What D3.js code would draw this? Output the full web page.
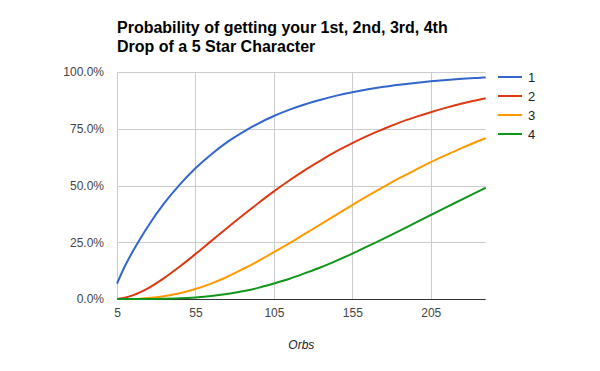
<!DOCTYPE html>
<html>
<head>
<meta charset="utf-8">
<script src="https://cdn.jsdelivr.net/npm/d3@7"></script>
<style>
	body { margin: 0; background: #fff; }
	text { font-family: Arial, "Liberation Sans", sans-serif; }
</style>
</head>
<body>
<div id="chart-area"></div>
<script>
// data (percent)
let orbs = [5, 10, 15, 20, 25, 35, 45, 55, 65, 75, 85, 95, 105, 115, 125, 135, 145, 155, 165, 175, 185, 195, 205, 215, 225, 235, 240];
let drop1 = [6.8, 14.4, 20.9, 26.8, 32.3, 42.1, 50.4, 57.6, 63.7, 69.0, 73.4, 77.3, 80.6, 83.4, 85.8, 87.8, 89.6, 91.1, 92.4, 93.5, 94.4, 95.2, 95.9, 96.5, 97.0, 97.4, 97.6];
let drop2 = [0, 0.56, 1.6, 3.05, 4.8, 9.2, 14.3, 19.8, 25.5, 31.2, 36.8, 42.2, 47.4, 52.3, 56.9, 61.1, 65.1, 68.7, 72.0, 74.9, 77.7, 80.1, 82.3, 84.3, 86.1, 87.7, 88.4];
let drop3 = [0, 0, 0.04, 0.16, 0.4, 1.2, 2.5, 4.4, 6.8, 9.7, 13.1, 16.7, 20.6, 24.6, 28.8, 33.0, 37.2, 41.4, 45.5, 49.4, 53.2, 56.8, 60.3, 63.5, 66.6, 69.5, 70.8];
let drop4 = [0, 0, 0, 0, 0.02, 0.1, 0.3, 0.7, 1.3, 2.2, 3.4, 4.9, 6.8, 8.9, 11.4, 14.0, 16.9, 20.0, 23.3, 26.6, 30.0, 33.5, 37.0, 40.5, 43.9, 47.3, 49.0];

let seriesNames = ["1", "2", "3", "4"];
let colors = ["#3366cc", "#dc3912", "#ff9900", "#109618"];
let xTicks = [5, 55, 105, 155, 205];
let yTicks = [0, 0.25, 0.5, 0.75, 1];

let width = 600,
	height = 371;

let series = [drop1, drop2, drop3, drop4].map((vals, i) => ({
	name: seriesNames[i],
	color: colors[i],
	values: vals.map((v, j) => ({x: orbs[j], y: v / 100}))
}));

let svg = d3.select("#chart-area").append("svg")
	.attr("width", width)
	.attr("height", height);

let xScale = d3.scaleLinear()
	.domain([5, 240])
	.range([117, 485.7]);

let yScale = d3.scaleLinear()
	.domain([0, 1])
	.range([299, 72]);

// title
let title = svg.append("text")
	.attr("x", 117)
	.attr("y", 32.5)
	.attr("font-size", "16px")
	.attr("font-weight", "bold")
	.attr("fill", "#000");
title.append("tspan").attr("x", 117).text("Probability of getting your 1st, 2nd, 3rd, 4th");
title.append("tspan").attr("x", 117).attr("dy", 19.5).text("Drop of a 5 Star Character");

// gridlines
svg.append("g").selectAll("line")
	.data(yTicks.filter(d => d > 0))
	.enter().append("line")
	.attr("x1", xScale(5))
	.attr("x2", xScale(240))
	.attr("y1", d => Math.round(yScale(d)) + 0.5)
	.attr("y2", d => Math.round(yScale(d)) + 0.5)
	.attr("stroke", "#cccccc");

svg.append("g").selectAll("line")
	.data(xTicks)
	.enter().append("line")
	.attr("x1", d => Math.round(xScale(d)) + 0.5)
	.attr("x2", d => Math.round(xScale(d)) + 0.5)
	.attr("y1", yScale(1))
	.attr("y2", yScale(0))
	.attr("stroke", "#cccccc");

// axes (labels only, lines drawn by hand like the original)
let yaxis = d3.axisLeft(yScale)
	.tickValues(yTicks)
	.tickFormat(d3.format(".1%"))
	.tickSize(0)
	.tickPadding(13);

svg.append("g")
	.attr("class", "y-axis")
	.attr("transform", "translate(" + xScale(5) + ",0)")
	.call(yaxis)
	.call(g => g.select(".domain").remove())
	.selectAll("text")
	.attr("font-size", "12px")
	.attr("font-family", "Arial, 'Liberation Sans', sans-serif")
	.attr("fill", "#444");

let xaxis = d3.axisBottom(xScale)
	.tickValues(xTicks)
	.tickFormat(d3.format("d"))
	.tickSize(0)
	.tickPadding(9);

svg.append("g")
	.attr("class", "x-axis")
	.attr("transform", "translate(0," + yScale(0) + ")")
	.call(xaxis)
	.call(g => g.select(".domain").remove())
	.selectAll("text")
	.attr("font-size", "12px")
	.attr("font-family", "Arial, 'Liberation Sans', sans-serif")
	.attr("fill", "#444");

// baseline
svg.append("line")
	.attr("x1", xScale(5))
	.attr("x2", xScale(240))
	.attr("y1", Math.round(yScale(0)) + 0.5)
	.attr("y2", Math.round(yScale(0)) + 0.5)
	.attr("stroke", "#333");

svg.append("text")
	.attr("x", (xScale(5) + xScale(240)) / 2)
	.attr("y", 349)
	.attr("text-anchor", "middle")
	.attr("font-size", "12px")
	.attr("font-style", "italic")
	.attr("fill", "#222")
	.text("Orbs");

// lines
let line = d3.line()
	.x(d => xScale(d.x))
	.y(d => yScale(d.y))
	.curve(d3.curveMonotoneX);

svg.append("g").selectAll("path")
	.data(series)
	.enter().append("path")
	.attr("d", d => line(d.values))
	.attr("fill", "none")
	.attr("stroke", d => d.color)
	.attr("stroke-width", 2);

// legend
let legend = svg.append("g").selectAll("g")
	.data(series)
	.enter().append("g")
	.attr("transform", (d, i) => "translate(498," + (77 + i * 19) + ")");

legend.append("line")
	.attr("x1", 0)
	.attr("x2", 24)
	.attr("stroke", d => d.color)
	.attr("stroke-width", 2);

legend.append("text")
	.attr("x", 30)
	.attr("dy", "0.35em")
	.attr("font-size", "13px")
	.attr("fill", "#222")
	.text(d => d.name);
</script>
</body>
</html>
